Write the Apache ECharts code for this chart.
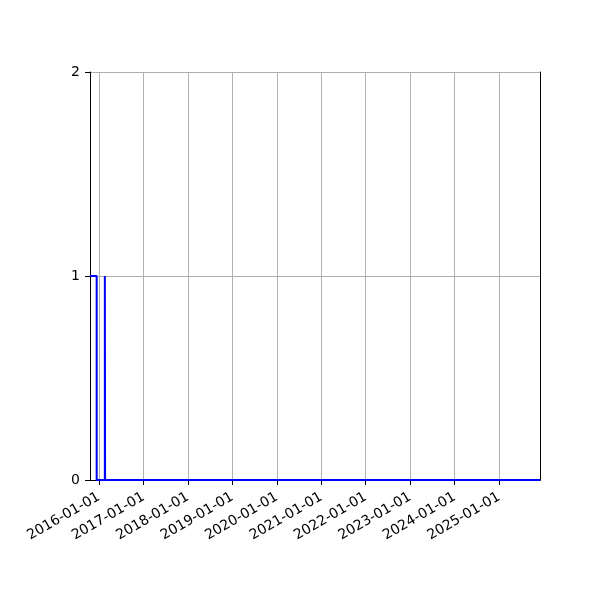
<!DOCTYPE html>
<html>
<head>
<meta charset="utf-8">
<script src="https://cdn.jsdelivr.net/npm/echarts@6/dist/echarts.min.js"></script>
<style>html,body{margin:0;padding:0;background:#fff}#c{width:600px;height:600px}</style>
</head>
<body>
<div id="c"></div>
<script>
// Data
const stepDates = ['2015-10-19', '2015-12-13', '2016-02-18', '2016-02-20', '2025-12-03'];
const stepValues = [1, 0, 1, 0, 0];
const xRange = ['2015-10-19', '2025-12-03'];
const yTicks = [0, 1, 2];

const seriesData = stepDates.map((d, i) => [d, stepValues[i]]);

const frameAxis = {
  axisLine: {show: true, lineStyle: {color: '#000', width: 1}},
  axisTick: {show: false},
  axisLabel: {show: false},
  splitLine: {show: false}
};

const chart = echarts.init(document.getElementById('c'), null, {renderer: 'canvas'});
chart.setOption({
  animation: false,
  backgroundColor: '#ffffff',
  grid: {left: 90, right: 60, top: 72, bottom: 120, show: false},
  xAxis: [{
    type: 'time',
    min: xRange[0],
    max: xRange[1],
    splitNumber: 10,
    minInterval: 365 * 24 * 3600 * 1000,
    axisLine: {show: true, lineStyle: {color: '#000', width: 1}},
    axisTick: {show: true, length: 5, inside: false, lineStyle: {color: '#000'}},
    axisLabel: {
      formatter: '{yyyy}-{MM}-{dd}',
      rotate: 30,
      color: '#000',
      fontFamily: 'DejaVu Sans',
      fontSize: 14,
      margin: 16,
      showMinLabel: false,
      showMaxLabel: false,
      hideOverlap: false
    },
    splitLine: {show: true, lineStyle: {color: '#b0b0b0', width: 1}}
  }, Object.assign({type: 'time', position: 'top', min: xRange[0], max: xRange[1]}, frameAxis)],
  yAxis: [{
    type: 'value',
    min: yTicks[0],
    max: yTicks[yTicks.length - 1],
    interval: 1,
    axisLine: {show: true, lineStyle: {color: '#000', width: 1}},
    axisTick: {show: true, length: 5, inside: false, lineStyle: {color: '#000'}},
    axisLabel: {color: '#000', fontFamily: 'DejaVu Sans', fontSize: 14, margin: 10},
    splitLine: {show: true, lineStyle: {color: '#b0b0b0', width: 1}}
  }, Object.assign({type: 'value', position: 'right', min: yTicks[0], max: yTicks[yTicks.length - 1], interval: 1}, frameAxis)],
  series: [{
    type: 'line',
    step: 'end',
    data: seriesData,
    showSymbol: false,
    symbol: 'none',
    lineStyle: {color: '#0000ff', width: 2},
    z: 5
  }]
});
</script>
</body>
</html>
